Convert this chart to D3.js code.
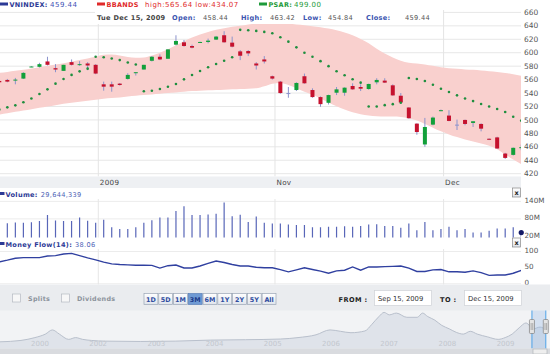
<!DOCTYPE html>
<html>
<head>
<meta charset="utf-8">
<script src="https://cdn.jsdelivr.net/npm/d3@7"></script>
<style>
  body { margin: 0; background: #fff; }
  svg { display: block; font-family: "DejaVu Sans", Verdana, sans-serif; }
</style>
</head>
<body>
<svg id="chart" width="550" height="354"></svg>
<script>
// trading days, Sep 15 - Dec 15 2009
const dates = [
  "2009-09-15","2009-09-16","2009-09-17","2009-09-18","2009-09-21","2009-09-22","2009-09-23","2009-09-24","2009-09-25","2009-09-28","2009-09-29","2009-09-30",
  "2009-10-01","2009-10-02","2009-10-05","2009-10-06","2009-10-07","2009-10-08","2009-10-09","2009-10-12","2009-10-13","2009-10-14","2009-10-15","2009-10-16",
  "2009-10-19","2009-10-20","2009-10-21","2009-10-22","2009-10-23","2009-10-26","2009-10-27","2009-10-28","2009-10-29","2009-10-30",
  "2009-11-02","2009-11-03","2009-11-04","2009-11-05","2009-11-06","2009-11-09","2009-11-10","2009-11-11","2009-11-12","2009-11-13",
  "2009-11-16","2009-11-17","2009-11-18","2009-11-19","2009-11-20","2009-11-23","2009-11-24","2009-11-25","2009-11-26","2009-11-27","2009-11-30",
  "2009-12-01","2009-12-02","2009-12-03","2009-12-04","2009-12-07","2009-12-08","2009-12-09","2009-12-10","2009-12-11","2009-12-14","2009-12-15"
];
const open  = [558,559.5,559,561.5,579,579,587,577,573,586,582,584,582,553,553,554,561,570,575,588,594,591,612,615.5,610,615,616,619.5,626,615,602,602.5,584,590,
               565,557,540,544.5,565,544.5,534,525.5,540.5,540.5,550.5,549,546,556,558.5,551.5,536,518.5,494.5,463.5,493,513,506.5,493,500,495.5,494,472,474,450,448,458.44];
const high  = [559,561,562.5,571,580,585,594,583,582,590,587.5,586,583,557,557,555,569.5,571,582,595,597.5,605,626,619,612,616.5,621,625,632,624,604,604,586,595,
               566,558,549,556,569,547,535,537.5,549,548.5,554.5,553,554,562,562,553,540,519,495,503,505,515.5,514.5,500.5,500.5,498,495,472.5,475,451,459,463.42];
const low   = [555,556,553,561,578.5,578,581,571,573,581,580.5,574,568,543.5,542,551,560,566,575,587,589,591,611,609,606.5,615,614,619,615,608,589,595,575,584,
               560,539,533,543,554,533,519.5,523,537,536,545,543,545,553,555,536,525,502,478,460,492,513,498,485,492,489.5,483,470,457,442,447,454.84];
const close = [556,557,560,570,579.5,583,582,575,582,582,583,581,569,549.5,549.5,552,567,571,582,594,590,605,617.5,610,607.5,616,618,624,615.5,609,595.5,599,581,587,
               561.5,540,540,555,554.5,534,523.5,537,545.5,548,545.5,546.5,553.5,559.5,555.5,536.5,526,502.5,482,489.5,503.5,514.5,498.5,493,494,498,487,470.5,457.5,443.5,458.5,459.44];
const psar  = [515.5,518.7,521.7,526.2,532,538.5,545.5,554,561,567,572.3,576.3,594,593.2,591.5,589,585.5,582.5,
               542.6,543.5,546,549.4,553.4,560.4,566.9,572.8,578.3,583.2,588.1,593.2,
               634,633.5,632.5,631,629,623,616.5,608,600,594,587.5,580,572.5,566.5,560.5,555.5,
               520,520,522,523.5,525.5,
               562.4,561,558,552.4,546.5,541.5,536.6,532,528,523.6,520,516.2,511.7,504.8,499];
const bbUpper = [570,571.5,573,574.5,576.5,578.5,580.5,582.5,584.5,586.5,589,591.5,594,597,597.5,596,593.5,592.5,593,596,600,605,611,617,622.5,627,631,634,636.5,638.5,
                 640,642,643,644,644.5,644,643,642,641,639.5,638,636,633.5,630,626,620.5,614,606,599,593,588,585,584,582.5,580.5,578.5,577,576,575,574.5,573.5,572.5,571.5,570,568,565.64];
const bbLower = [508,510,512,514,516,518,520,522,524,525.5,527,528.5,530,531.5,532.5,533.5,535,536,537,538,539,540,541,542,543,543.5,544,544.5,545,545.5,
                 546,546.5,547,550,554,555,552,547,542,537.5,532,526,520.5,515.5,511.5,508.5,506.5,505.5,505,505,504.5,502.5,499,494,488.5,483,478.5,474.5,471,468,465,461.5,456.5,448.5,441,434.07];
const volumeM = [64,62,64,63,65,69,90,71,69,69,81,70,63,74,48,42,42,48,63,72,81,81,104,120,90,90,92,94,133,86,91,66,85,63,
                 61,61,57,56,56,48,48,50,50,51,50,52,57,58,52,52,46,61,38,66,38,42,50,38,42,30,30,36,44,44,48,29.644339];
const moneyFlow = [65,70,76,78,78,78,83,84,89,91,84,77,71,64,58.5,56.5,55.5,54.5,54.5,54,45.5,53,55,46,46,52,60,67.5,63,56.5,52,52,48,46.5,
                   46.5,41,34,40,46.5,41,36,29.5,37,39,49,39,49,49,50,51,52,45.5,35,35,40,41,34,34,32.5,37,31.5,23,24,24,29.5,38.06];

const priceTicks = [420,440,460,480,500,520,540,560,580,600,620,640,660];
const volumeTicks = [20,80,140];
const mfTicks = [0,50,100];
const monthTicks = [["2009","2009-10-01"],["Nov","2009-11-02"],["Dec","2009-12-01"]];
const rangeButtons = ["1D","5D","1M","3M","6M","1Y","2Y","5Y","All"];

// navigator history (decimal year, index level)
const navYears = [2000.57,2000.93,2001.17,2001.35,2001.47,2001.59,2001.75,2001.87,2001.99,2002.14,2002.38,2002.98,2003.58,2004.19,2004.79,2005.39,2005.69,2006.0,
                  2006.24,2006.42,2006.6,2006.84,2006.96,2007.08,2007.17,2007.26,2007.38,2007.56,2007.74,2007.83,2007.92,2008.04,2008.16,2008.29,2008.41,
                  2008.53,2008.65,2008.77,2008.95,2009.13,2009.25,2009.37,2009.49,2009.61,2009.73,2009.85,2009.95];
const navValues = [138,187,286,409,556,409,224,286,224,187,162,150,162,199,212,236,286,384,556,507,458,519,753,1024,1171,1085,1147,999,999,1147,1024,901,716,593,470,
                   409,507,409,310,224,286,409,630,802,593,655,556];
const navLabels = [["2000",2001],["2002",2002],["2003",2003],["2004",2004],["2005",2005],["2006",2006],["2007",2007],["2008",2008],["2009",2009]];

const svg = d3.select("#chart");
const plotRight = 521;
const idx = d3.range(dates.length);

const x = d3.scaleLinear().domain([0, dates.length - 1]).range([-0.7, 521.25]);
const y = d3.scaleLinear().domain([420, 660]).range([173.7, 12.4]);
const yVol = d3.scaleLinear().domain([20, 140]).range([235.4, 200.4]);
const yMf = d3.scaleLinear().domain([0, 100]).range([282.8, 250.5]);
const monthX = (d) => x(dates.indexOf(d) + 0.33);

const defs = svg.append("defs");
const clip = (id, yy, h) => defs.append("clipPath").attr("id", id)
  .append("rect").attr("x", 0).attr("y", yy).attr("width", plotRight).attr("height", h);
clip("clipMain", 10, 166.5);
clip("clipVol", 199, 38.5);
clip("clipMf", 249, 35.5);

const btnGrad = defs.append("linearGradient").attr("id", "btn").attr("x1", 0).attr("y1", 0).attr("x2", 0).attr("y2", 1);
btnGrad.append("stop").attr("offset", "0%").attr("stop-color", "#ffffff");
btnGrad.append("stop").attr("offset", "100%").attr("stop-color", "#dfe4ec");

// ---------- main price panel ----------
const main = svg.append("g").attr("clip-path", "url(#clipMain)");

main.selectAll(".hgrid").data(priceTicks).enter().append("line")
  .attr("x1", 0).attr("x2", plotRight)
  .attr("y1", (d) => y(d)).attr("y2", (d) => y(d))
  .attr("stroke", "#e7e7e7");

main.selectAll(".vgrid").data(monthTicks).enter().append("line")
  .attr("x1", (d) => monthX(d[1])).attr("x2", (d) => monthX(d[1]))
  .attr("y1", 10).attr("y2", 177)
  .attr("stroke", "#e4e4e4");

const band = d3.area()
  .x((i) => x(i))
  .y0((i) => y(bbLower[i]))
  .y1((i) => y(bbUpper[i]))
  .curve(d3.curveMonotoneX);

main.append("path").datum(idx).attr("d", band).attr("fill", "#f9d0ce");

// header box with the day's quote
const hdr = svg.append("g");
hdr.append("rect").attr("x", 95).attr("y", 10).attr("width", 348).attr("height", 14).attr("fill", "#fff");
const quote = [
  ["Tue Dec 15, 2009", 97, "#444", "bold"],
  ["Open:", 172, "#3b55b0", "bold"], [d3.format(".2f")(open[65]), 203, "#555", "normal"],
  ["High:", 241, "#3b55b0", "bold"], [d3.format(".2f")(high[65]), 270, "#555", "normal"],
  ["Low:", 303, "#3b55b0", "bold"], [d3.format(".2f")(low[65]), 328, "#555", "normal"],
  ["Close:", 366, "#3b55b0", "bold"], [d3.format(".2f")(close[65]), 405, "#555", "normal"]
];
hdr.selectAll("text").data(quote).enter().append("text")
  .attr("x", (d) => d[1]).attr("y", 20)
  .attr("font-size", 6.6).attr("fill", (d) => d[2]).attr("font-weight", (d) => d[3])
  .attr("letter-spacing", 0.3)
  .text((d) => d[0]);

// candles
const candles = main.append("g").selectAll("g").data(idx).enter().append("g");
candles.append("line")
  .attr("x1", (i) => x(i)).attr("x2", (i) => x(i))
  .attr("y1", (i) => y(high[i])).attr("y2", (i) => y(low[i]))
  .attr("stroke", "#8c93cc").attr("stroke-width", 1);
candles.append("rect")
  .attr("x", (i) => x(i) - 2).attr("width", 4)
  .attr("y", (i) => y(Math.max(open[i], close[i])))
  .attr("height", (i) => Math.max(1, Math.abs(y(open[i]) - y(close[i]))))
  .attr("fill", (i) => close[i] > open[i] ? "#12a03a" : close[i] < open[i] ? "#c5122e" : "#8c93cc");

// parabolic SAR
main.append("g").selectAll("circle").data(idx).enter().append("circle")
  .attr("cx", (i) => x(i)).attr("cy", (i) => y(psar[i])).attr("r", 1.3)
  .attr("fill", "#1e8e3e");

svg.selectAll(".ptick").data(priceTicks).enter().append("text")
  .attr("x", 524).attr("y", (d) => y(d)).attr("dy", "0.35em")
  .attr("font-size", 7.5).attr("fill", "#555").text((d) => d);

// legend row
const legend = [
  { x: 0, color: "#2c3a96", label: "VNINDEX:", value: d3.format(".2f")(close[65]), vcolor: "#3f51b5", vx: 50 },
  { x: 97, color: "#e02a2a", label: "BBANDS", value: "high:" + bbUpper[65].toFixed(2) + " low:" + bbLower[65].toFixed(2), vcolor: "#e02a2a", vx: 145 },
  { x: 259, color: "#1e9a3a", label: "PSAR:", value: psar[65].toFixed(2), vcolor: "#1e9a3a", vx: 294 }
];
const lg = svg.append("g").selectAll("g").data(legend).enter().append("g");
lg.append("rect").attr("x", (d) => d.x).attr("y", 2.5).attr("width", 8).attr("height", 3).attr("fill", (d) => d.color);
lg.append("text").attr("x", (d) => d.x + 9.5).attr("y", 7).attr("font-size", 6.5).attr("font-weight", "bold")
  .attr("letter-spacing", 0.3).attr("fill", (d) => d.color).text((d) => d.label);
lg.append("text").attr("x", (d) => d.vx).attr("y", 7).attr("font-size", 7).attr("letter-spacing", 0.5)
  .attr("fill", (d) => d.vcolor).text((d) => d.value);

// date axis band
svg.append("rect").attr("x", 0).attr("y", 176.5).attr("width", plotRight).attr("height", 11.5).attr("fill", "#eef0f3");
svg.selectAll(".mlabel").data(monthTicks).enter().append("text")
  .attr("x", (d) => monthX(d[1]) + 1.5).attr("y", 185)
  .attr("font-size", 7.2).attr("fill", "#444").attr("letter-spacing", 0.3).text((d) => d[0]);

// panel header + close button
function panelHeader(top, label, value) {
  const g = svg.append("g");
  g.append("rect").attr("x", 0).attr("y", top + 3.5).attr("width", 4.5).attr("height", 3).attr("fill", "#2c3a96");
  const t = g.append("text").attr("x", 5.5).attr("y", top + 8).attr("font-size", 6.6).attr("letter-spacing", 0.3);
  t.append("tspan").attr("font-weight", "bold").attr("fill", "#2c3a96").text(label);
  t.append("tspan").attr("fill", "#4d5fb5").attr("dx", 3).text(value);
  g.append("rect").attr("x", 512.5).attr("y", top - 0.5).attr("width", 8).attr("height", 9)
    .attr("fill", "url(#btn)").attr("stroke", "#888").attr("stroke-width", 0.7);
  g.append("text").attr("x", 516.5).attr("y", top + 6.3).attr("text-anchor", "middle")
    .attr("font-size", 6.5).attr("font-weight", "bold").attr("fill", "#222").text("x");
}

// ---------- volume panel ----------
panelHeader(188.5, "Volume:", d3.format(",")(Math.round(volumeM[65] * 1e6)));
const vol = svg.append("g").attr("clip-path", "url(#clipVol)");
vol.selectAll(".hg").data([80, 140]).enter().append("line")
  .attr("x1", 0).attr("x2", plotRight).attr("y1", (d) => yVol(d) + 1).attr("y2", (d) => yVol(d) + 1)
  .attr("stroke", "#ececec");
vol.selectAll(".vg").data(monthTicks).enter().append("line")
  .attr("x1", (d) => monthX(d[1])).attr("x2", (d) => monthX(d[1])).attr("y1", 199).attr("y2", 238)
  .attr("stroke", "#e6e6e6");
vol.selectAll(".bar").data(idx).enter().append("line")
  .attr("x1", (i) => x(i)).attr("x2", (i) => x(i))
  .attr("y1", 238).attr("y2", (i) => yVol(volumeM[i]))
  .attr("stroke", "#5866b8").attr("stroke-width", 1.2);
svg.append("circle").attr("cx", x(65)).attr("cy", yVol(volumeM[65])).attr("r", 2.6).attr("fill", "#141a66");
svg.selectAll(".vtick").data(volumeTicks).enter().append("text")
  .attr("x", 524.5).attr("y", (d) => yVol(d)).attr("dy", "0.35em")
  .attr("font-size", 7.2).attr("fill", "#555").text((d) => d + "M");

// ---------- money flow panel ----------
panelHeader(238.5, "Money Flow(14):", moneyFlow[65].toFixed(2));
const mf = svg.append("g").attr("clip-path", "url(#clipMf)");
mf.selectAll(".hg").data([0, 100]).enter().append("line")
  .attr("x1", 0).attr("x2", plotRight).attr("y1", (d) => yMf(d) + 1).attr("y2", (d) => yMf(d) + 1)
  .attr("stroke", "#ececec");
mf.selectAll(".vg").data(monthTicks).enter().append("line")
  .attr("x1", (d) => monthX(d[1])).attr("x2", (d) => monthX(d[1])).attr("y1", 249).attr("y2", 285)
  .attr("stroke", "#e6e6e6");
mf.append("path").datum(idx)
  .attr("d", d3.line().x((i) => x(i)).y((i) => yMf(moneyFlow[i])))
  .attr("fill", "none").attr("stroke", "#3040a0").attr("stroke-width", 1.4);
svg.selectAll(".mftick").data(mfTicks).enter().append("text")
  .attr("x", 524.5).attr("y", (d) => yMf(d)).attr("dy", "0.35em")
  .attr("font-size", 7.2).attr("fill", "#555").text((d) => d);

// ---------- controls ----------
const ctl = svg.append("g");
ctl.append("rect").attr("x", 0).attr("y", 284.5).attr("width", 550).attr("height", 70).attr("fill", "#eaecef");
[["Splits", 12.5], ["Dividends", 61.5]].forEach(([t, cx]) => {
  ctl.append("rect").attr("x", cx).attr("y", 294).attr("width", 8).attr("height", 8)
    .attr("fill", "#f7f7f7").attr("stroke", "#b5bac2").attr("stroke-width", 0.7);
  ctl.append("text").attr("x", cx + 15.5).attr("y", 300.8).attr("font-size", 6.4).attr("font-weight", "bold")
    .attr("fill", "#8c939c").attr("letter-spacing", 0.3).text(t);
});

const bx = d3.scaleBand().domain(rangeButtons).range([144, 276]).paddingInner(0.06);
const btn = ctl.selectAll(".btn").data(rangeButtons).enter().append("g");
btn.append("rect").attr("x", (d) => bx(d)).attr("y", 293.5).attr("width", bx.bandwidth()).attr("height", 11)
  .attr("fill", (d) => d === "3M" ? "#6f9ad4" : "url(#btn)")
  .attr("stroke", (d) => d === "3M" ? "#5a7fb8" : "#9aa5b5").attr("stroke-width", 0.7);
btn.append("text").attr("x", (d) => bx(d) + bx.bandwidth() / 2).attr("y", 301.5).attr("text-anchor", "middle")
  .attr("font-size", 6.4).attr("font-weight", "bold")
  .attr("fill", (d) => d === "3M" ? "#1d3b8a" : "#2f4da0").text((d) => d);

ctl.append("text").attr("x", 338.5).attr("y", 301.5).attr("font-size", 6.6).attr("font-weight", "bold")
  .attr("fill", "#222").attr("letter-spacing", 0.4).text("FROM :");
ctl.append("text").attr("x", 440).attr("y", 301.5).attr("font-size", 6.6).attr("font-weight", "bold")
  .attr("fill", "#222").attr("letter-spacing", 0.4).text("TO :");
const fmtIn = d3.timeFormat("%b %d, %Y");
const parse = d3.timeParse("%Y-%m-%d");
[[374.5, dates[0]], [464.5, dates[65]]].forEach(([bx0, d]) => {
  ctl.append("rect").attr("x", bx0).attr("y", 290.5).attr("width", 57).attr("height", 15)
    .attr("fill", "#fff").attr("stroke", "#cfd2d6").attr("stroke-width", 0.7);
  ctl.append("text").attr("x", bx0 + 3.5).attr("y", 301).attr("font-size", 6.8).attr("fill", "#333")
    .text(fmtIn(parse(d)));
});

// ---------- navigator ----------
const nav = svg.append("g");
nav.append("rect").attr("x", 0).attr("y", 310.5).attr("width", 550).attr("height", 38).attr("fill", "#f2f3f5");
const nx = d3.scaleLinear().domain([2000.57, 2009.96]).range([0, 546.5]);
const ny = d3.scaleLinear().domain([100, 1171]).range([342.9, 312.4]);
nav.append("path").datum(navYears.map((yr, i) => [yr, navValues[i]]))
  .attr("d", d3.area().x((d) => nx(d[0])).y0(348.5).y1((d) => ny(d[1])).curve(d3.curveMonotoneX))
  .attr("fill", "#dfe3ea");
nav.append("path").datum(navYears.map((yr, i) => [yr, navValues[i]]))
  .attr("d", d3.line().x((d) => nx(d[0])).y((d) => ny(d[1])).curve(d3.curveMonotoneX))
  .attr("fill", "none").attr("stroke", "#b9c0cc").attr("stroke-width", 1);
nav.selectAll(".yl").data(navLabels).enter().append("text")
  .attr("x", (d) => nx(d[1]) + 6).attr("y", 345.5).attr("font-size", 7).attr("fill", "#c3c7ce")
  .text((d) => d[0]);

const selA = nx(2009.71), selB = nx(2009.96) - 0.7;
nav.append("rect").attr("x", selA).attr("y", 310.5).attr("width", selB - selA).attr("height", 38)
  .attr("fill", "#8fb6e6").attr("opacity", 0.3);
[selA, selB].forEach((sx) => {
  nav.append("line").attr("x1", sx).attr("x2", sx).attr("y1", 310.5).attr("y2", 348.5)
    .attr("stroke", "#4ea3e8").attr("stroke-width", 1);
  nav.append("rect").attr("x", sx - 2.5).attr("y", 319.5).attr("width", 5).attr("height", 14).attr("rx", 1)
    .attr("fill", "#e4e4e4").attr("stroke", "#7f7f7f").attr("stroke-width", 0.7);
  nav.append("line").attr("x1", sx - 0.8).attr("x2", sx - 0.8).attr("y1", 323).attr("y2", 330).attr("stroke", "#777").attr("stroke-width", 0.5);
  nav.append("line").attr("x1", sx + 0.8).attr("x2", sx + 0.8).attr("y1", 323).attr("y2", 330).attr("stroke", "#777").attr("stroke-width", 0.5);
});

// scrollbar
nav.append("rect").attr("x", 0).attr("y", 348.5).attr("width", 550).attr("height", 5.5).attr("fill", "#d9dbdf");
nav.append("rect").attr("x", 533).attr("y", 349).attr("width", 14).attr("height", 5).attr("fill", "#eeeeee")
  .attr("stroke", "#a9adb3").attr("stroke-width", 0.6);
</script>
</body>
</html>
